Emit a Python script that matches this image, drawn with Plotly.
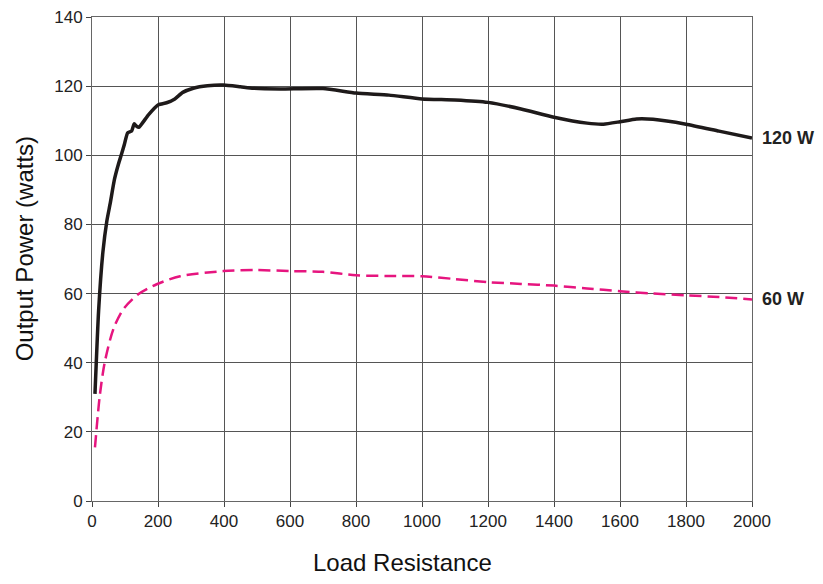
import plotly.graph_objects as go

# Data
x_120 = [9, 20, 33, 45, 55, 68, 80, 90, 98, 108, 120, 128, 135, 142, 171, 201, 226, 251, 275, 307, 350, 398, 450, 489, 570,
         700, 800, 900, 1000, 1100, 1200, 1300, 1400, 1500, 1550, 1600, 1650, 1700, 1800, 1900, 2000]
y_120 = [31, 55, 72, 81, 86, 93, 97.4, 100.5, 103.1, 106.5, 107, 109.1, 108.4, 108.1, 111.7, 114.6, 115.2, 116.3, 118.2, 119.4, 120.1, 120.3, 119.8, 119.4, 119.2,
         119.3, 118, 117.4, 116.3, 116, 115.3, 113.4, 111, 109.3, 109, 109.7, 110.5, 110.4, 109, 107, 105]

x_60 = [9, 24, 39, 65, 95, 140, 196, 267, 398, 500, 600, 700, 800, 900, 1000, 1100, 1200, 1300, 1400, 1500, 1600, 1700, 1800, 1900, 2000]
y_60 = [15.5, 30.8, 40.3, 49.8, 55.5, 59.8, 62.7, 65, 66.5, 66.8, 66.5, 66.3, 65.3, 65.1, 65, 64.2, 63.3, 62.8, 62.3, 61.5, 60.7, 60, 59.5, 59, 58.3]

series_labels = ["120 W", "60 W"]
x_ticks = list(range(0, 2001, 200))
y_ticks = list(range(0, 141, 20))
x_title = "Load Resistance"
y_title = "Output Power (watts)"

fig = go.Figure()
fig.add_trace(go.Scatter(x=x_60, y=y_60, mode="lines", name=series_labels[1],
                         line=dict(color="#e6157f", width=2.5, dash="12px,6px", shape="spline", smoothing=0.8)))
fig.add_trace(go.Scatter(x=x_120, y=y_120, mode="lines", name=series_labels[0],
                         line=dict(color="#1e1a1a", width=3.5, shape="spline", smoothing=0.5)))

for xs, ys, lab in [(x_120, y_120, series_labels[0]), (x_60, y_60, series_labels[1])]:
    fig.add_annotation(x=xs[-1], y=ys[-1], text="<b>" + lab + "</b>", xref="x", yref="y",
                       xanchor="left", yanchor="middle", xshift=8, showarrow=False,
                       font=dict(family="Liberation Sans, Arial, sans-serif", size=18, color="#222"))

tick_font = dict(family="Liberation Sans, Arial, sans-serif", size=17, color="#222")
title_font = dict(family="Liberation Sans, Arial, sans-serif", size=24, color="#111")

fig.add_annotation(x=0.471, y=-0.128, xref="paper", yref="paper", text=x_title, showarrow=False,
                   xanchor="center", yanchor="middle", font=title_font)
fig.add_annotation(x=-0.103, y=0.52, xref="paper", yref="paper", text=y_title, showarrow=False,
                   textangle=-90, xanchor="center", yanchor="middle", font=title_font)

fig.update_layout(
    width=823, height=584,
    margin=dict(l=84, r=79, t=9, b=91),
    paper_bgcolor="white", plot_bgcolor="white",
    showlegend=False,
)
fig.update_xaxes(range=[0, 2000], tickvals=x_ticks, ticks="outside", ticklen=5, tickcolor="#444",
                 showgrid=True, gridcolor="#555", gridwidth=1, automargin=False,
                 showline=True, linecolor="#666", linewidth=1, mirror=True,
                 zeroline=False, tickfont=tick_font, ticklabeloverflow="allow")
fig.update_yaxes(range=[0, 140], tickvals=y_ticks, ticks="outside", ticklen=5, tickcolor="#444",
                 showgrid=True, gridcolor="#555", gridwidth=1, automargin=False,
                 showline=True, linecolor="#666", linewidth=1, mirror=True,
                 zeroline=False, tickfont=tick_font, ticklabeloverflow="allow")

fig.write_html("out.html")
